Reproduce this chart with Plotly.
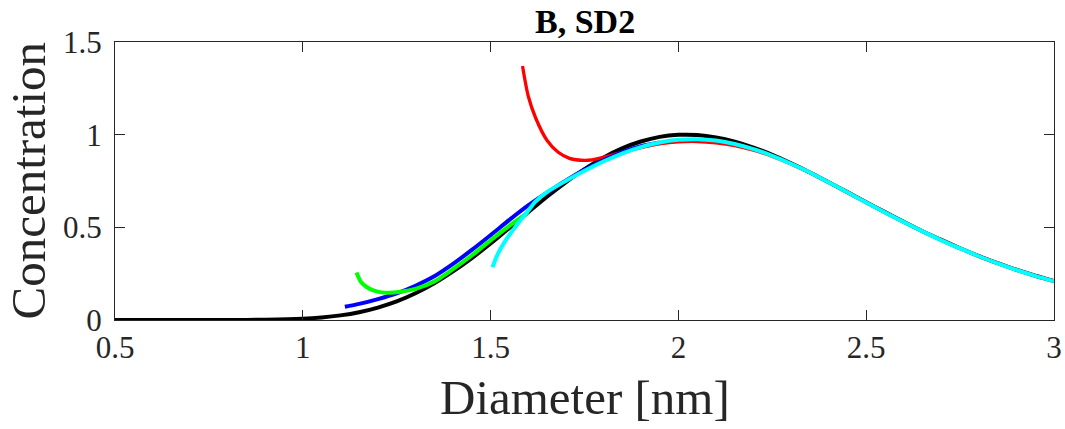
import plotly.graph_objects as go

# Reference size distribution (black)
d_ref = [0.50, 0.60, 0.70, 0.80, 0.90, 1.00, 1.05, 1.10, 1.15, 1.20, 1.25, 1.30, 1.35,
         1.40, 1.45, 1.50, 1.55, 1.60, 1.65, 1.70, 1.75, 1.80, 1.85, 1.90, 1.95,
         2.00, 2.05, 2.10, 2.15, 2.20, 2.25, 2.30, 2.35, 2.40, 2.45, 2.50, 2.55,
         2.60, 2.65, 2.70, 2.75, 2.80, 2.85, 2.90, 2.95, 3.00]
c_ref = [0.000, 0.000, 0.000, 0.0002, 0.0015, 0.007, 0.014, 0.025, 0.042, 0.067,
         0.100, 0.144, 0.198, 0.262, 0.334, 0.413, 0.497, 0.581, 0.665, 0.743,
         0.814, 0.876, 0.926, 0.963, 0.988, 0.999, 0.998, 0.985, 0.962, 0.930,
         0.891, 0.845, 0.796, 0.743, 0.690, 0.635, 0.582, 0.530, 0.479, 0.432,
         0.387, 0.345, 0.307, 0.271, 0.239, 0.210]

# Red estimate
d_red = [1.585, 1.60, 1.62, 1.65, 1.68, 1.71, 1.74, 1.77, 1.80, 1.85, 1.90, 1.95,
         2.00, 2.05, 2.10, 2.15, 2.20, 2.25, 2.30, 2.35, 2.40, 2.45, 2.50, 2.55,
         2.60, 2.65, 2.70, 2.75, 2.80, 2.85, 2.90, 2.95, 3.00]
c_red = [1.37, 1.21, 1.09, 0.97, 0.905, 0.872, 0.862, 0.864, 0.878, 0.905, 0.930,
         0.950, 0.961, 0.963, 0.956, 0.941, 0.916, 0.883, 0.843, 0.796, 0.744,
         0.690, 0.635, 0.581, 0.529, 0.479, 0.431, 0.387, 0.345, 0.306, 0.271,
         0.239, 0.210]

# Blue estimate
d_blue = [1.112, 1.15, 1.20, 1.25, 1.30, 1.35, 1.40, 1.45, 1.50, 1.55, 1.60, 1.65,
          1.70, 1.75, 1.80, 1.85, 1.90, 1.95]
c_blue = [0.072, 0.087, 0.113, 0.144, 0.185, 0.236, 0.303, 0.378, 0.458, 0.540,
          0.618, 0.687, 0.752, 0.810, 0.862, 0.905, 0.938, 0.958]

# Green estimate
d_green = [1.143, 1.155, 1.17, 1.19, 1.21, 1.23, 1.26, 1.30, 1.35, 1.40, 1.45, 1.50,
           1.55, 1.60]
c_green = [0.256, 0.205, 0.178, 0.158, 0.149, 0.147, 0.152, 0.168, 0.207, 0.274,
           0.348, 0.430, 0.508, 0.580]

# Cyan estimate
d_cyan = [1.505, 1.52, 1.54, 1.56, 1.58, 1.60, 1.62, 1.65, 1.70, 1.75, 1.80, 1.85,
          1.90, 1.95, 2.00, 2.05, 2.10, 2.15, 2.20, 2.25, 2.30, 2.35, 2.40, 2.45,
          2.50, 2.55, 2.60, 2.65, 2.70, 2.75, 2.80, 2.85, 2.90, 2.95, 3.00]
c_cyan = [0.285, 0.360, 0.430, 0.486, 0.540, 0.590, 0.640, 0.690, 0.750, 0.805,
          0.855, 0.898, 0.933, 0.958, 0.972, 0.975, 0.968, 0.950, 0.922, 0.886,
          0.843, 0.796, 0.743, 0.689, 0.634, 0.580, 0.528, 0.478, 0.430, 0.386,
          0.344, 0.306, 0.270, 0.238, 0.209]

x_ticks = [0.5, 1, 1.5, 2, 2.5, 3]
x_tick_text = ["0.5", "1", "1.5", "2", "2.5", "3"]
y_ticks = [0, 0.5, 1, 1.5]
y_tick_text = ["0", "0.5", "1", "1.5"]

title_text = "<b>B, SD2</b>"
x_title = "Diameter [nm]"
y_title = "Concentration"

FONT = "Liberation Serif, Times New Roman, serif"
AX = "#262626"

series = [
    (d_ref, c_ref, "#000000", 4.0),
    (d_red, c_red, "#ff0000", 3.3),
    (d_blue, c_blue, "#0000ff", 4.0),
    (d_green, c_green, "#00ff00", 4.0),
    (d_cyan, c_cyan, "#00ffff", 4.0),
]

fig = go.Figure()
for xs, ys, col, w in series:
    fig.add_trace(go.Scatter(
        x=xs, y=ys, mode="lines",
        line=dict(color=col, width=w, shape="spline", smoothing=0.8),
        showlegend=False, hoverinfo="skip",
    ))

axis_common = dict(
    showgrid=False, zeroline=False,
    showline=True, linecolor=AX, linewidth=1.3, mirror="ticks",
    ticks="inside", ticklen=10, tickwidth=1.3, tickcolor=AX,
    tickfont=dict(family=FONT, size=31, color=AX),
)

fig.update_layout(
    width=1065, height=429,
    margin=dict(l=115, r=11, t=42, b=109, autoexpand=False),
    paper_bgcolor="white", plot_bgcolor="white",
    xaxis=dict(range=[0.5, 3], tickvals=x_ticks, ticktext=x_tick_text, **axis_common),
    yaxis=dict(range=[0, 1.5], tickvals=y_ticks, ticktext=y_tick_text,
               ticklabelstandoff=6, **axis_common),
    annotations=[
        dict(text=title_text, x=0.5, y=1, xref="paper", yref="paper",
             xanchor="center", yanchor="bottom", yshift=0, showarrow=False,
             font=dict(family=FONT, size=34, color="#000000")),
        dict(text=x_title, x=0.5, y=0, xref="paper", yref="paper",
             xanchor="center", yanchor="top", yshift=-48, showarrow=False,
             font=dict(family=FONT, size=49, color=AX)),
        dict(text=y_title, x=0, y=0.5, xref="paper", yref="paper",
             xanchor="right", yanchor="middle", xshift=-58, textangle=-90,
             showarrow=False, font=dict(family=FONT, size=49, color=AX)),
    ],
)

fig.write_html("out.html")
